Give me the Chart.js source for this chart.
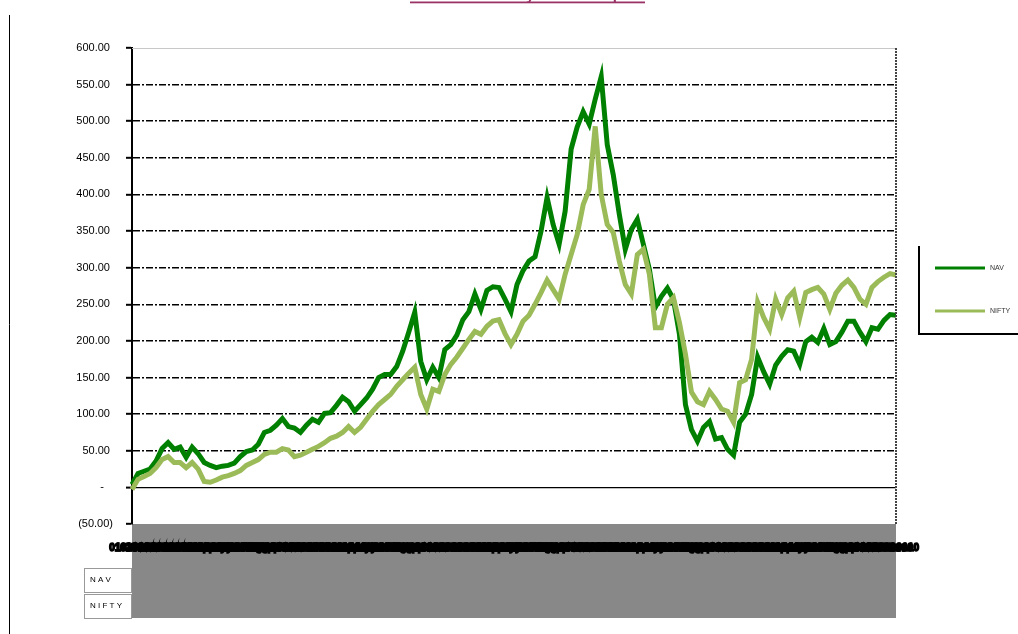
<!DOCTYPE html>
<html>
<head>
<meta charset="utf-8">
<script src="https://cdn.jsdelivr.net/npm/chart.js@4.4.1/dist/chart.umd.min.js"></script>
<style>
    html, body { margin: 0; padding: 0; background: #fff; }
</style>
</head>
<body>
<canvas id="navChart" width="1018" height="634"></canvas>
<script>
// semi-monthly observation dates (category axis)
const dateLabels = [
    '01-Oct-04','16-Oct-04','01-Nov-04','16-Nov-04','01-Dec-04','16-Dec-04',
    '01-Jan-05','16-Jan-05','01-Feb-05','16-Feb-05','01-Mar-05','16-Mar-05','01-Apr-05','16-Apr-05',
    '01-May-05','16-May-05','01-Jun-05','16-Jun-05','01-Jul-05','16-Jul-05','01-Aug-05','16-Aug-05',
    '01-Sep-05','16-Sep-05','01-Oct-05','16-Oct-05','01-Nov-05','16-Nov-05','01-Dec-05','16-Dec-05',
    '01-Jan-06','16-Jan-06','01-Feb-06','16-Feb-06','01-Mar-06','16-Mar-06','01-Apr-06','16-Apr-06',
    '01-May-06','16-May-06','01-Jun-06','16-Jun-06','01-Jul-06','16-Jul-06','01-Aug-06','16-Aug-06',
    '01-Sep-06','16-Sep-06','01-Oct-06','16-Oct-06','01-Nov-06','16-Nov-06','01-Dec-06','16-Dec-06',
    '01-Jan-07','16-Jan-07','01-Feb-07','16-Feb-07','01-Mar-07','16-Mar-07','01-Apr-07','16-Apr-07',
    '01-May-07','16-May-07','01-Jun-07','16-Jun-07','01-Jul-07','16-Jul-07','01-Aug-07','16-Aug-07',
    '01-Sep-07','16-Sep-07','01-Oct-07','16-Oct-07','01-Nov-07','16-Nov-07','01-Dec-07','16-Dec-07',
    '01-Jan-08','16-Jan-08','01-Feb-08','16-Feb-08','01-Mar-08','16-Mar-08','01-Apr-08','16-Apr-08',
    '01-May-08','16-May-08','01-Jun-08','16-Jun-08','01-Jul-08','16-Jul-08','01-Aug-08','16-Aug-08',
    '01-Sep-08','16-Sep-08','01-Oct-08','16-Oct-08','01-Nov-08','16-Nov-08','01-Dec-08','16-Dec-08',
    '01-Jan-09','16-Jan-09','01-Feb-09','16-Feb-09','01-Mar-09','16-Mar-09','01-Apr-09','16-Apr-09',
    '01-May-09','16-May-09','01-Jun-09','16-Jun-09','01-Jul-09','16-Jul-09','01-Aug-09','16-Aug-09',
    '01-Sep-09','16-Sep-09','01-Oct-09','16-Oct-09','01-Nov-09','16-Nov-09','01-Dec-09','16-Dec-09',
    '01-Jan-10','16-Jan-10'
];

const navValues = [
    4, 19, 22, 25, 36, 53, 61, 52, 55, 41,
    55, 46, 34, 30, 27, 29, 30, 33, 42, 49,
    51, 59, 75, 78, 85, 94, 83, 81, 75, 85,
    93, 89, 101, 102, 112, 123, 117, 104, 113, 122,
    134, 150, 154, 154, 165, 186, 212, 239, 172, 147,
    164, 150, 188, 195, 208, 229, 240, 264, 243, 269,
    274, 273, 257, 240, 277, 296, 309, 315, 350, 396,
    359, 332, 377, 462, 492, 513, 496, 530, 561, 468,
    427, 373, 325, 352, 366, 332, 298, 246, 261, 272,
    257, 209, 113, 79, 63, 82, 90, 66, 68, 52,
    44, 89, 100, 127, 178, 158, 141, 167, 179, 188,
    186, 168, 199, 205, 198, 217, 195, 199, 212, 227,
    227, 212, 199, 218, 216, 228, 236, 235
];

const niftyValues = [
    -3, 11, 15, 19, 27, 38, 42, 34, 34, 27,
    34, 25, 8, 7, 10, 14, 16, 19, 23, 30,
    34, 38, 45, 48, 48, 53, 51, 42, 44, 48,
    52, 56, 61, 67, 70, 75, 83, 75, 82, 93,
    104, 113, 120, 127, 138, 147, 156, 164, 127, 107,
    134, 131, 154, 168, 178, 190, 202, 213, 209, 220,
    227, 229, 210, 195, 209, 227, 235, 250, 266, 283,
    270, 257, 291, 318, 345, 386, 407, 493, 400, 359,
    348, 309, 277, 264, 318, 325, 291, 218, 218, 250,
    259, 225, 182, 130, 117, 113, 131, 120, 107, 104,
    89, 143, 147, 175, 253, 232, 216, 257, 236, 259,
    268, 232, 266, 270, 273, 264, 243, 265, 276, 283,
    273, 257, 250, 273, 281, 287, 292, 290
];

const seriesNames = ['NAV', 'NIFTY'];
const seriesColors = ['#008000', '#9bbb59'];
const yMin = -50, yMax = 600, yStep = 50;

const fmtAccounting = v => {
    if (v === 0) return '-   ';
    if (v < 0) return '(' + Math.abs(v).toFixed(2) + ')';
    return v.toFixed(2) + ' ';
};

const sheetDecor = {
    id: 'sheetDecor',
    beforeDraw(chart) {
        const { ctx, chartArea: a } = chart;
        ctx.save();
        ctx.fillStyle = '#fff';
        ctx.fillRect(0, 0, chart.width, chart.height);
        ctx.fillStyle = '#888888';
        ctx.fillRect(a.left, a.bottom, a.right - a.left, 618 - a.bottom);
        ctx.restore();
    },
    afterDraw(chart) {
        const { ctx, chartArea: a } = chart;
        ctx.save();

        // cut-off title at the top edge
        ctx.fillStyle = '#993366';
        ctx.font = 'bold 15px "Liberation Sans"';
        ctx.textAlign = 'center';
        ctx.textBaseline = 'alphabetic';
        ctx.fillText('Fund NAV vs Nifty Since Inception', 527, 0);
        ctx.fillRect(410, 1.5, 235, 1.8);

        // sheet edge on the left
        ctx.strokeStyle = '#000';
        ctx.lineWidth = 1;
        ctx.beginPath();
        ctx.moveTo(9.5, 15);
        ctx.lineTo(9.5, 634);
        ctx.stroke();

        // plot frame: faint top, dotted right
        ctx.strokeStyle = '#c8c8c8';
        ctx.beginPath();
        ctx.moveTo(a.left, a.top + 0.5);
        ctx.lineTo(a.right, a.top + 0.5);
        ctx.stroke();
        ctx.strokeStyle = '#444';
        ctx.lineWidth = 2;
        ctx.setLineDash([2, 1]);
        ctx.beginPath();
        ctx.moveTo(a.right, a.top);
        ctx.lineTo(a.right, a.bottom);
        ctx.stroke();
        ctx.setLineDash([]);

        // data table row headers
        ctx.font = '8px "Liberation Sans"';
        ctx.textAlign = 'left';
        ctx.textBaseline = 'middle';
        seriesNames.forEach((name, i) => {
            const top = 568 + i * 26;
            ctx.fillStyle = '#fff';
            ctx.fillRect(84, top, 48, 25);
            ctx.strokeStyle = '#999';
            ctx.lineWidth = 1;
            ctx.strokeRect(84.5, top + 0.5, 47, 24);
            ctx.fillStyle = '#000';
            ctx.fillText(name.split('').join(' '), 90, top + 12);
        });

        // legend box
        ctx.strokeStyle = '#000';
        ctx.lineWidth = 2;
        ctx.beginPath();
        ctx.moveTo(919, 246);
        ctx.lineTo(919, 334);
        ctx.lineTo(1018, 334);
        ctx.stroke();
        ctx.font = '7px "Liberation Sans"';
        chart.data.datasets.forEach((ds, i) => {
            const y = 268 + i * 43;
            ctx.strokeStyle = ds.borderColor;
            ctx.lineWidth = 3;
            ctx.beginPath();
            ctx.moveTo(935, y);
            ctx.lineTo(985, y);
            ctx.stroke();
            ctx.fillStyle = '#333';
            ctx.fillText(ds.label, 990, y + 0.5);
        });

        ctx.restore();
    }
};

Chart.defaults.font.family = '"Liberation Sans", Arial, sans-serif';
Chart.defaults.color = '#000';

new Chart(document.getElementById('navChart'), {
    type: 'line',
    data: {
        labels: dateLabels,
        datasets: [
            {
                label: seriesNames[0],
                data: navValues,
                borderColor: seriesColors[0],
                borderWidth: 5,
                pointRadius: 0,
                tension: 0,
                order: 2
            },
            {
                label: seriesNames[1],
                data: niftyValues,
                borderColor: seriesColors[1],
                borderWidth: 5,
                pointRadius: 0,
                tension: 0,
                order: 1
            }
        ]
    },
    options: {
        responsive: false,
        animation: false,
        layout: { padding: { left: 0, top: 48, right: 122, bottom: 70 } },
        plugins: {
            legend: { display: false },
            tooltip: { enabled: false }
        },
        scales: {
            x: {
                offset: false,
                grid: { display: false, drawTicks: false },
                border: { display: false },
                ticks: {
                    autoSkip: false,
                    maxRotation: 0,
                    minRotation: 0,
                    padding: 18,
                    color: '#000',
                    textStrokeColor: '#000',
                    textStrokeWidth: 1.5,
                    font: { size: 10, weight: 'bold' }
                },
                afterFit: scale => { scale.height = 40; }
            },
            y: {
                min: yMin,
                max: yMax,
                ticks: {
                    stepSize: yStep,
                    padding: 13,
                    font: { size: 11 },
                    callback: v => fmtAccounting(v)
                },
                grid: {
                    color: c => (c.tick && (c.tick.value === yMin || c.tick.value === yMax)) ? 'rgba(0,0,0,0)' : '#000',
                    lineWidth: c => (c.tick && c.tick.value === 0) ? 1.2 : 1.6,
                    tickColor: '#000',
                    tickWidth: 2,
                    tickLength: 6
                },
                border: {
                    display: true,
                    color: '#000',
                    width: 2,
                    dash: c => (c.type === 'tick' && c.tick && c.tick.value !== 0) ? [7, 2, 2, 2] : []
                },
                afterFit: scale => { scale.width = 132; }
            }
        }
    },
    plugins: [sheetDecor]
});
</script>
</body>
</html>
